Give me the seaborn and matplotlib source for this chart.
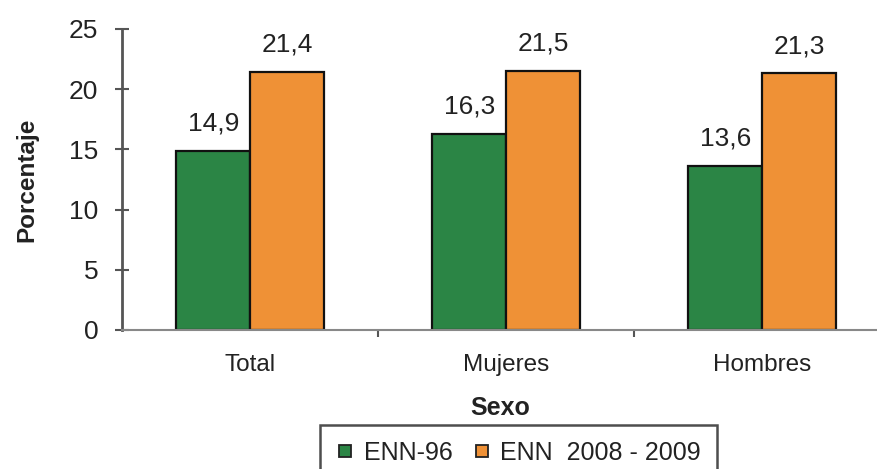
import matplotlib
matplotlib.use("Agg")
import matplotlib.pyplot as plt
from matplotlib.lines import Line2D
from matplotlib.ticker import FixedLocator
import seaborn as sns
import pandas as pd

categories = ["Total", "Mujeres", "Hombres"]
series_names = ["ENN-96", "ENN  2008 - 2009"]
enn96 = [14.9, 16.3, 13.6]
enn2008 = [21.4, 21.5, 21.3]
y_ticks = [0, 5, 10, 15, 20, 25]

colors = {"ENN-96": "#2b8545", "ENN  2008 - 2009": "#ef9136"}

df = pd.DataFrame({
    "Sexo": categories * 2,
    "Serie": [series_names[0]] * 3 + [series_names[1]] * 3,
    "Porcentaje": enn96 + enn2008,
})

sns.set_theme(style="white")
plt.rcParams["font.family"] = ["Liberation Sans", "DejaVu Sans"]

fig = plt.figure(figsize=(8.78, 4.69), dpi=100)
ax = fig.add_axes([0.139, 0.2964, 0.861, 0.642])

sns.barplot(data=df, x="Sexo", y="Porcentaje", hue="Serie", order=categories,
            hue_order=series_names, palette=colors, width=0.575,
            edgecolor="#111111", linewidth=1.6, saturation=1, ax=ax,
            legend=False)

ax.set_xlim(-0.5, 2.453)
ax.set_ylim(0, 25)
ax.set_yticks(y_ticks)
ax.set_yticklabels([str(t) for t in y_ticks], fontsize=19, color="#222222")
ax.tick_params(axis="y", direction="inout", length=10, width=1.5, color="#555555", pad=12, left=True)
ax.tick_params(axis="x", length=0, labelsize=17.5, labelcolor="#222222", pad=17)
ax.xaxis.set_minor_locator(FixedLocator([0.5, 1.5]))
ax.tick_params(axis="x", which="minor", direction="out", length=5, width=1.5, color="#555555", bottom=True)

for side in ["top", "right"]:
    ax.spines[side].set_visible(False)
ax.spines["left"].set_color("#555555")
ax.spines["left"].set_linewidth(2)
ax.spines["bottom"].set_color("#888888")
ax.spines["bottom"].set_linewidth(1.5)

ax.set_ylabel("Porcentaje", fontsize=17.5, fontweight="bold", color="#222222", labelpad=22)
ax.set_xlabel("Sexo", fontsize=18, fontweight="bold", color="#222222", labelpad=15)

for container in ax.containers:
    labels = [f"{v:.1f}".replace(".", ",") for v in container.datavalues]
    ax.bar_label(container, labels=labels, padding=11, fontsize=19, color="#222222")

handles = [Line2D([], [], marker="s", linestyle="", markersize=8,
                  markerfacecolor=colors[n], markeredgecolor="#222222",
                  markeredgewidth=1.3) for n in series_names]
leg = fig.legend(handles, series_names, loc="upper center", bbox_to_anchor=(0.591, 0.094),
                 borderaxespad=0, ncol=2, frameon=True, fancybox=False, fontsize=18,
                 handlelength=0.7, handletextpad=0.4, columnspacing=0.8, borderpad=0.65)
leg.get_frame().set_edgecolor("#222222")
leg.get_frame().set_linewidth(1.8)
for t in leg.get_texts():
    t.set_color("#222222")

fig.savefig("out.png", dpi=100)
